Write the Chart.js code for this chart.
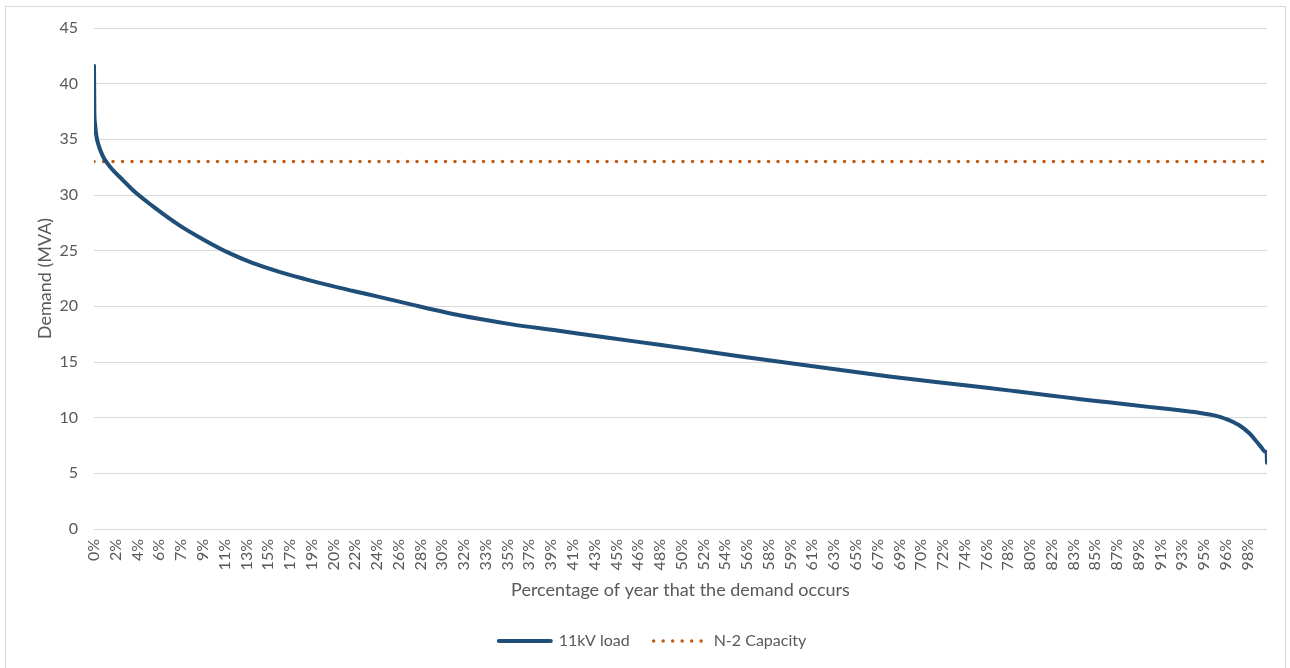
<!DOCTYPE html>
<html><head><meta charset="utf-8">
<script src="https://cdn.jsdelivr.net/npm/chart.js@4.4.0/dist/chart.umd.min.js"></script>
<style>
html,body{margin:0;padding:0;background:#fff;overflow:hidden;}
#wrap{position:absolute;left:5px;top:6px;width:1281px;height:664px;border:1px solid #d9d9d9;box-sizing:border-box;}
canvas{display:block;}
</style></head><body>
<div id="wrap"><canvas id="c" width="1279" height="662" style="width:1279px;height:662px"></canvas></div>
<script>
// Load-duration curve: percentage of year (x) and demand in MVA (y)
const loadPct = [0, 0.03, 0.08, 0.15, 0.28, 0.55, 0.85, 1.4, 2.5, 3.4, 5.0, 7.25, 9.5, 11.5, 13.5, 15.8, 18, 20, 22, 24.3, 27.1, 30, 32.8, 35.5, 39.6, 44, 48.2, 50.7, 55, 59.25, 63.5, 67.8, 72.9, 76.3, 78.6, 81.5, 84.3, 86.5, 89.9, 92, 93.4, 94.2, 95.6, 96.5, 97.6, 98.5, 99.0, 99.5, 99.85, 99.97, 100];
const loadMVA = [41.6, 37.5, 36.5, 35.7, 34.9, 34.0, 33.3, 32.5, 31.3, 30.35, 29.0, 27.3, 25.9, 24.8, 23.9, 23.1, 22.45, 21.9, 21.4, 20.85, 20.15, 19.45, 18.88, 18.4, 17.8, 17.15, 16.55, 16.18, 15.52, 14.91, 14.3, 13.7, 13.07, 12.66, 12.37, 12.0, 11.64, 11.38, 10.97, 10.73, 10.55, 10.44, 10.18, 9.88, 9.34, 8.6, 8.0, 7.35, 6.95, 6.85, 5.96];
const capacityPct = [0, 100];
const capacityMVA = [33, 33];
const xTickLabels = ['0%','2%','4%','6%','7%','9%','11%','13%','15%','17%','19%','20%','22%','24%','26%','28%','30%','32%','33%','35%','37%','39%','41%','43%','45%','46%','48%','50%','52%','54%','56%','58%','59%','61%','63%','65%','67%','69%','70%','72%','74%','76%','78%','80%','82%','83%','85%','87%','89%','91%','93%','95%','96%','98%'];
const xTickStep = 163 / 8784 * 100; // category label interval as share of the year
const yTicks = [0, 5, 10, 15, 20, 25, 30, 35, 40, 45];

const FONT = 'Lato, "Open Sans", sans-serif';
const TXT = '#595959';

const legendShift = {
  id: 'legendShift',
  afterLayout(chart) {
    if (chart.legend) { chart.legend.left += 16; chart.legend.right += 16; }
  }
};

new Chart(document.getElementById('c'), {
  type: 'line',
  plugins: [legendShift],
  data: {
    datasets: [
      {
        label: '11kV load',
        data: loadPct.map((x, i) => ({x: x, y: loadMVA[i]})),
        borderColor: '#1F4E79',
        backgroundColor: '#1F4E79',
        borderWidth: 4,
        borderCapStyle: 'round',
        borderJoinStyle: 'round',
        pointRadius: 0,
        cubicInterpolationMode: 'monotone'
      },
      {
        label: 'N-2 Capacity',
        data: capacityPct.map((x, i) => ({x: x, y: capacityMVA[i]})),
        borderColor: '#C55A11',
        backgroundColor: '#C55A11',
        borderWidth: 3.5,
        borderDash: [0, 9.5],
        borderCapStyle: 'round',
        pointRadius: 0
      }
    ]
  },
  options: {
    responsive: false,
    animation: false,
    layout: {padding: {left: 0, right: 18, top: 21, bottom: 10}},
    plugins: {
      tooltip: {enabled: false},
      legend: {
        position: 'bottom',
        labels: {
          usePointStyle: true,
          pointStyleWidth: 52,
          padding: 24,
          color: TXT,
          font: {family: FONT, size: 16},
          generateLabels: (chart) => chart.data.datasets.map((ds, i) => ({
            text: ds.label,
            fillStyle: ds.borderColor,
            strokeStyle: ds.borderColor,
            lineWidth: ds.borderWidth,
            lineDash: ds.borderDash || [],
            lineCap: 'round',
            pointStyle: 'line',
            fontColor: TXT,
            hidden: false,
            datasetIndex: i
          }))
        }
      }
    },
    scales: {
      x: {
        type: 'linear',
        min: 0,
        max: 100,
        grid: {display: false, drawTicks: false},
        border: {display: false},
        afterBuildTicks: (s) => { s.ticks = xTickLabels.map((l, i) => ({value: i * xTickStep})); },
        afterFit: (s) => { s.height = 80; },
        ticks: {
          autoSkip: false,
          maxRotation: 90,
          minRotation: 90,
          padding: 10,
          color: TXT,
          font: {family: FONT, size: 16},
          callback: (v, i) => xTickLabels[i]
        },
        title: {
          display: true,
          text: 'Percentage of year that the demand occurs',
          color: TXT,
          font: {family: FONT, size: 18},
          padding: {top: 0, bottom: 8}
        }
      },
      y: {
        min: 0,
        max: 45,
        afterBuildTicks: (s) => { s.ticks = yTicks.map(v => ({value: v})); },
        afterFit: (s) => { s.width = 88; s.paddingTop = 0; s.paddingBottom = 0; },
        grid: {color: '#d9d9d9', lineWidth: 1, drawTicks: false},
        border: {display: false},
        ticks: {
          padding: 16,
          color: TXT,
          font: {family: FONT, size: 16}
        },
        title: {
          display: true,
          text: 'Demand (MVA)',
          color: TXT,
          font: {family: FONT, size: 18},
          padding: {top: 28, bottom: 0}
        }
      }
    }
  }
});
</script>
</body></html>
